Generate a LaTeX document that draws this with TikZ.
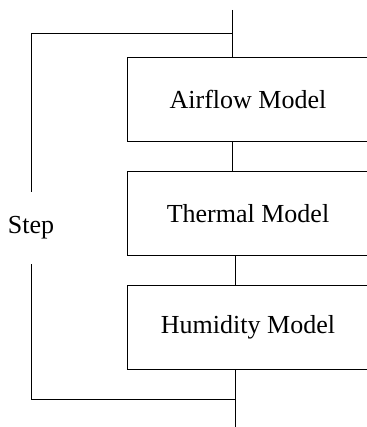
\documentclass[tikz,border=0pt]{standalone}
\usepackage{fontspec}
\setmainfont{Liberation Serif}
\usetikzlibrary{positioning}

\begin{document}
\begin{tikzpicture}[x=1pt, y=-1pt, node distance=114pt, line width=0.8pt,
    font=\fontsize{26}{30}\selectfont,
    model/.style={draw, minimum width=242pt, minimum height=84pt}]
      \useasboundingbox (0,0) rectangle (366,427);
      \node (air) [model] at (248,99.5) {Airflow Model};
      \node (therm) [model, below of=air] {Thermal Model};
      \node (humid) [model, below of=therm] {Humidity Model};
      \node (step) [minimum height=72pt, inner sep=0pt] at (31,228) {Step};
      \coordinate (in) at (232,10);
      \coordinate (out) at (235,427);
      \coordinate (loopne) at (232,33);
      \coordinate (loopse) at (235,399);
      \draw (in) -- (in |- air.north);
      \draw (in |- air.south) -- (in |- therm.north);
      \draw (out |- therm.south) -- (out |- humid.north);
      \draw (out |- humid.south) -- (out);
      \draw (loopne) -| (step.north);
      \draw (step.south) |- (loopse);
    \end{tikzpicture}
\end{document}
